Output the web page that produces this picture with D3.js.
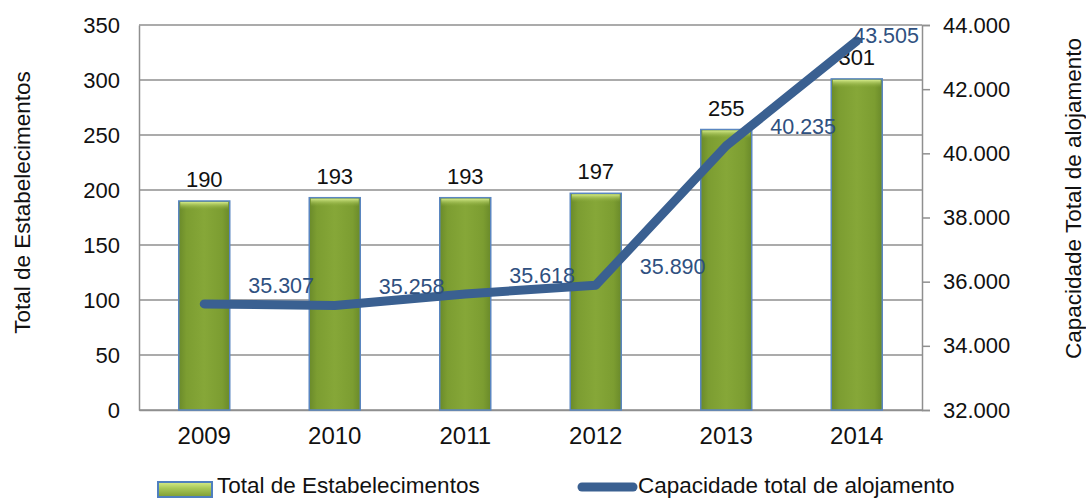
<!DOCTYPE html>
<html><head><meta charset="utf-8">
<script src="https://cdn.jsdelivr.net/npm/d3@7"></script>
<style>
body{margin:0;background:#fff;}
text{font-family:"Liberation Sans",Arial,sans-serif;}
</style></head>
<body><svg id="c" width="1086" height="498"></svg>
<script>
const years = ["2009","2010","2011","2012","2013","2014"];
const establishments = [190,193,193,197,255,301];
const capacity = [35307,35258,35618,35890,40235,43505];
const leftTicks = [0,50,100,150,200,250,300,350];
const rightTicks = [32000,34000,36000,38000,40000,42000,44000];
const seriesNames = ["Total de Estabelecimentos","Capacidade total de alojamento"];
const axisTitles = ["Total de Estabelecimentos","Capacidade Total de alojamento"];

const svg = d3.select("#c");
const L=139, R=922, T=25, B=410;
const fmt = d3.formatLocale({decimal:",",thousands:".",grouping:[3]}).format(",d");

const x = d3.scaleBand().domain(years).range([L,R]).paddingInner(0).paddingOuter(0);
const yL = d3.scaleLinear().domain([0,350]).range([B,T]);
const yR = d3.scaleLinear().domain([32000,44000]).range([B,T]);

const defs = svg.append("defs");
const g1 = defs.append("linearGradient").attr("id","barH").attr("x1","0").attr("x2","1").attr("y1","0").attr("y2","0");
[[0,"#6a8a2a"],[0.15,"#7c9d31"],[0.5,"#86a738"],[0.85,"#7c9d31"],[1,"#6a8a2a"]].forEach(s=>g1.append("stop").attr("offset",s[0]).attr("stop-color",s[1]));
const g3 = defs.append("linearGradient").attr("id","barTop").attr("x1","0").attr("x2","0").attr("y1","0").attr("y2","1");
[[0,"#d4ea88",1],[1,"#86a738",0]].forEach(s=>g3.append("stop").attr("offset",s[0]).attr("stop-color",s[1]).attr("stop-opacity",s[2]));
const g2 = defs.append("linearGradient").attr("id","swatch").attr("x1","0").attr("x2","0").attr("y1","0").attr("y2","1");
[[0,"#d6ec8a"],[0.4,"#a9c95a"],[1,"#7d9c33"]].forEach(s=>g2.append("stop").attr("offset",s[0]).attr("stop-color",s[1]));

// gridlines
svg.append("g").selectAll("line").data(leftTicks).join("line")
  .attr("x1",L).attr("x2",R).attr("y1",d=>yL(d)).attr("y2",d=>yL(d))
  .attr("stroke","#8f8f8f").attr("stroke-width",1.5);

// left axis
const ax = svg.append("g").attr("transform",`translate(${L},0)`)
  .call(d3.axisLeft(yL).tickValues(leftTicks).tickSize(0).tickPadding(19));
ax.select(".domain").attr("stroke","#8f8f8f").attr("stroke-width",1.5);
ax.selectAll("text").attr("font-size",22).attr("fill","#111").attr("font-family","Liberation Sans, Arial");

// right axis
const ar = svg.append("g").attr("transform",`translate(${R},0)`)
  .call(d3.axisRight(yR).tickValues(rightTicks).tickFormat(fmt).tickSize(8).tickPadding(13));
ar.select(".domain").attr("stroke","#8f8f8f").attr("stroke-width",1.5);
ar.selectAll("line").attr("stroke","#8f8f8f").attr("stroke-width",1.5);
ar.selectAll("text").attr("font-size",22).attr("fill","#111").attr("font-family","Liberation Sans, Arial");

// bottom axis
const ab = svg.append("g").attr("transform",`translate(0,${B})`)
  .call(d3.axisBottom(x).tickSize(0).tickPadding(17));
ab.select(".domain").attr("stroke","#8f8f8f").attr("stroke-width",1.5);
ab.selectAll("text").attr("font-size",24).attr("fill","#111").attr("font-family","Liberation Sans, Arial");

// bars
const bw = 51;
const bars = svg.append("g");
bars.selectAll("rect.bar").data(establishments).join("rect").attr("class","bar")
  .attr("x",(d,i)=>x(years[i])+x.bandwidth()/2-bw/2).attr("width",bw)
  .attr("y",d=>yL(d)).attr("height",d=>B-yL(d))
  .attr("fill","url(#barH)").attr("stroke","#5a86c0").attr("stroke-width",1.5);
bars.selectAll("rect.hl").data(establishments).join("rect").attr("class","hl")
  .attr("x",(d,i)=>x(years[i])+x.bandwidth()/2-bw/2+1.5).attr("width",bw-3)
  .attr("y",d=>yL(d)+1).attr("height",8)
  .attr("fill","url(#barTop)");

// bar labels
svg.append("g").selectAll("text").data(establishments).join("text")
  .attr("x",(d,i)=>x(years[i])+x.bandwidth()/2).attr("y",d=>yL(d)-14)
  .attr("text-anchor","middle").attr("font-size",22).attr("fill","#111").text(d=>d);

// line
const cx = (i)=>x(years[i])+x.bandwidth()/2;
const line = d3.line().x((d,i)=>cx(i)).y(d=>yR(d));
svg.append("path").datum(capacity).attr("d",line).attr("fill","none")
  .attr("stroke","#3a6091").attr("stroke-width",9).attr("stroke-linecap","round").attr("stroke-linejoin","round");

// line labels
svg.append("g").selectAll("text").data(capacity).join("text")
  .attr("font-size",21.5).attr("fill","#2f5080").attr("dominant-baseline","middle")
  .text(d=>fmt(d))
  .each(function(d,i){
    const w = this.getComputedTextLength();
    let lx = cx(i)+44;
    if (lx+w > R-3) lx = R-3-w;
    let ly = Math.max(yR(d)-17, T+12);
    d3.select(this).attr("x",lx).attr("y",ly);
  });

// axis titles
svg.append("text").attr("transform",`translate(30,${(70+335)/2}) rotate(-90)`)
  .attr("text-anchor","middle").attr("font-size",22.5).attr("fill","#111").text(axisTitles[0]);
svg.append("text").attr("transform",`translate(1081,${(35+362)/2}) rotate(-90)`)
  .attr("text-anchor","middle").attr("font-size",22.5).attr("fill","#111").text(axisTitles[1]);

// legend
const lg = svg.append("g");
lg.append("rect").attr("x",158).attr("y",482).attr("width",54).attr("height",15)
  .attr("fill","url(#swatch)").attr("stroke","#4f7fbf").attr("stroke-width",2);
lg.append("text").attr("x",217).attr("y",493).attr("font-size",22.5).attr("fill","#111").text(seriesNames[0]);
lg.append("line").attr("x1",582).attr("x2",633).attr("y1",487).attr("y2",487)
  .attr("stroke","#3a6091").attr("stroke-width",9).attr("stroke-linecap","round");
lg.append("text").attr("x",638).attr("y",493).attr("font-size",22.5).attr("fill","#111").text(seriesNames[1]);
</script></body></html>
